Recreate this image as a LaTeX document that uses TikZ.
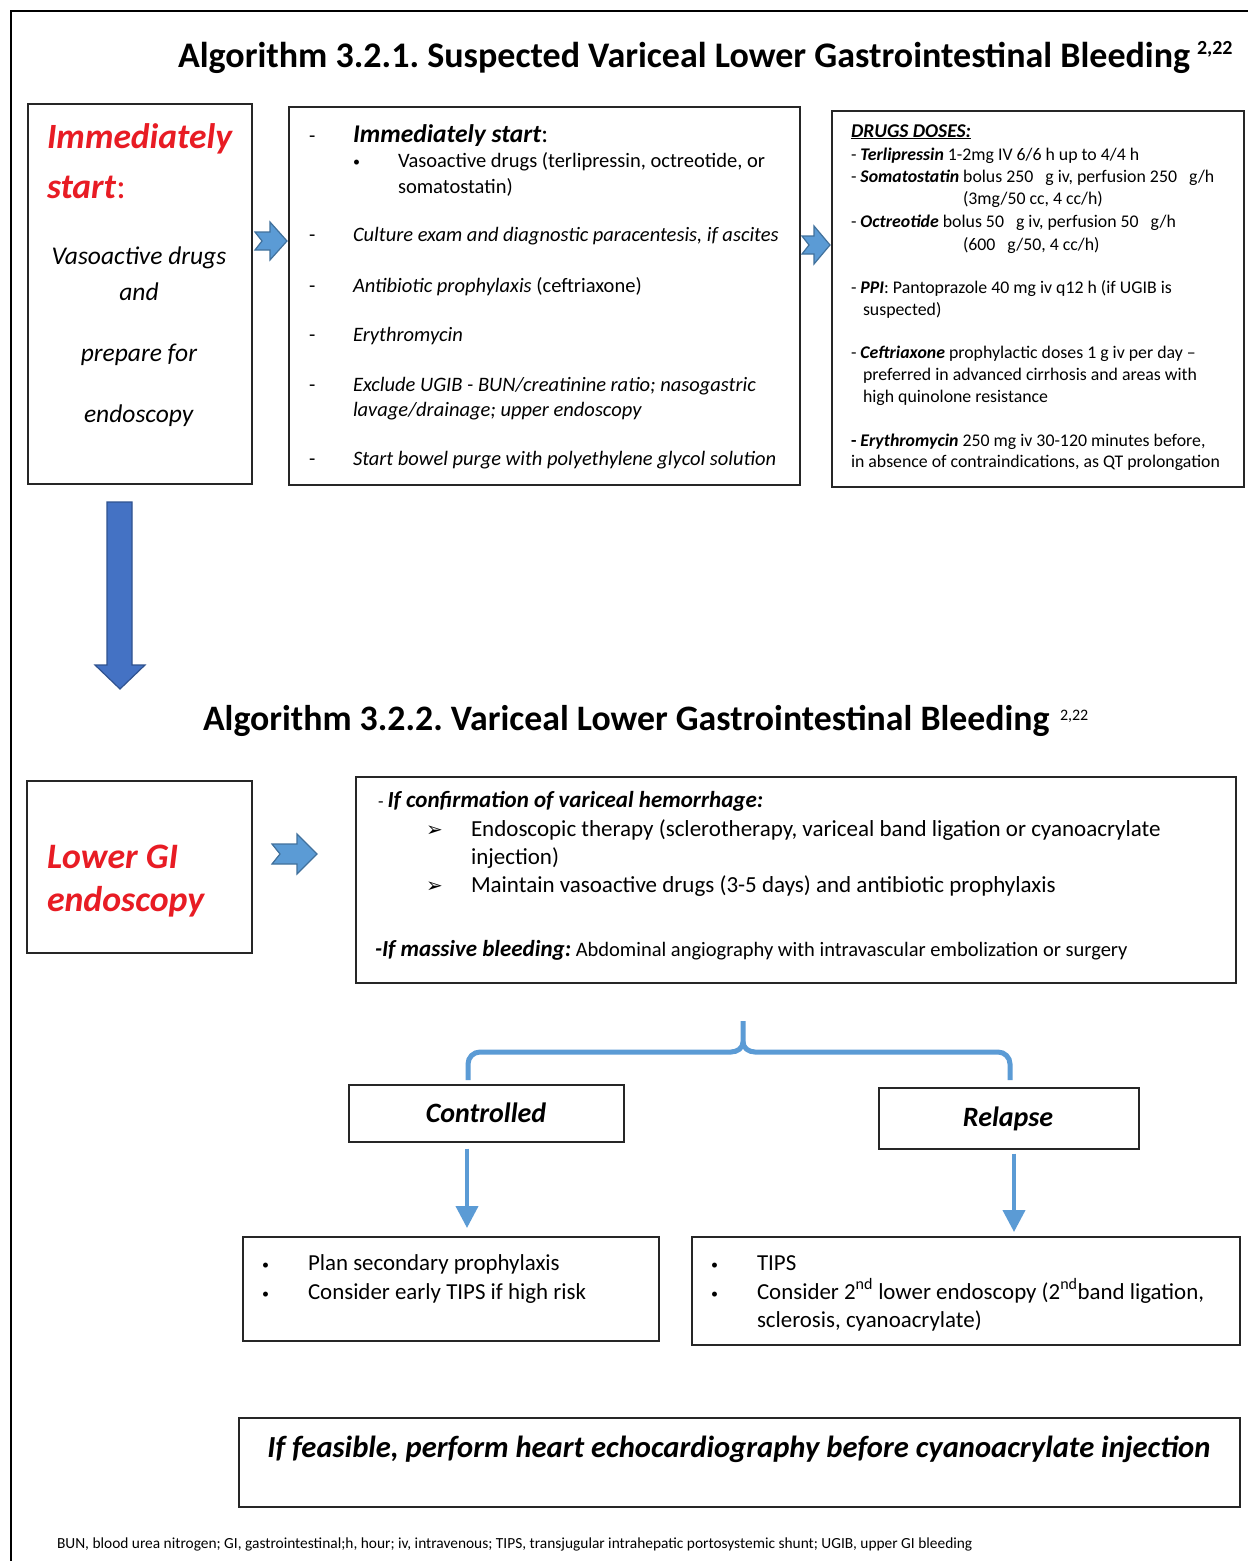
\documentclass[tikz,border=0pt]{standalone}
\usepackage{fontspec}
\setmainfont{Carlito}
\newfontfamily\dejavu{DejaVu Sans}
\usetikzlibrary{arrows.meta}
\definecolor{redtxt}{RGB}{232,28,36}
\definecolor{arrblue}{RGB}{91,155,213}
\definecolor{arredge}{RGB}{65,113,156}
\definecolor{bigblue}{RGB}{68,114,196}
\definecolor{bigedge}{RGB}{47,82,143}
\newcounter{tn}
\newcommand{\tx}[4]{\stepcounter{tn}\node[txt] (t\arabic{tn}) at (#1,#2) {\fontsize{#3}{#3}\selectfont #4};}
\newcommand{\tc}[4]{\stepcounter{tn}\node[ctxt] (t\arabic{tn}) at (#1,#2) {\fontsize{#3}{#3}\selectfont #4};}
\newcommand{\notchar}[8]{% name, x0, x1, x2, x3, yc, h1, h2
  \draw[notched] (#2,#6-#7) -- (#4,#6-#7) -- (#4,#6-#8) -- (#5,#6) -- (#4,#6+#8) -- (#4,#6+#7) -- (#2,#6+#7) -- (#3,#6) -- cycle;
  \coordinate (#1) at (#5,#6);}
\newcommand{\bi}[1]{\textbf{\textit{#1}}}
\newcommand{\gap}{\hspace{12pt}}
\frenchspacing
\tikzset{
  txt/.style={anchor=base west,inner sep=0pt,outer sep=0pt},
  ctxt/.style={anchor=base,inner sep=0pt,outer sep=0pt},
  box/.style={draw=black!85,line width=1.6pt,inner sep=0pt,anchor=north west},
  notched/.style={fill=arrblue,draw=arredge,line width=1.2pt,line join=miter},
  brace/.style={draw=arrblue,line width=5pt},
  downarr/.style={draw=arrblue,line width=4pt,-{Triangle[width=22pt,length=22pt]}},
}
\begin{document}
\begin{tikzpicture}[x=1pt,y=-1pt]
\useasboundingbox (0,0) rectangle (1248,1561);
\fill[white] (0,0) rectangle (1248,1561);
% outer frame
\draw[line width=2pt] (11,1561) -- (11,11) -- (1248,11);

% Title 1
\tx{178}{67}{36}{\textbf{Algorithm 3.2.1. Suspected Variceal Lower Gastrointestinal Bleeding}}
\tx{1197}{54}{20}{\textbf{2,22}}

% Box A
\node[box,minimum width=224,minimum height=380] (A) at (27,103) {};
\tx{47}{148}{35.5}{\color{redtxt}\bi{Immediately}}
\tx{47}{198}{35.5}{\color{redtxt}\bi{start}:}
\tc{139}{264}{25.5}{\textit{Vasoactive drugs}}
\tc{139}{300}{25.5}{\textit{and}}
\tc{139}{361}{25.5}{\textit{prepare for}}
\tc{139}{422}{25.5}{\textit{endoscopy}}

% Box B
\node[box,minimum width=511,minimum height=378] (B) at (288,106) {};
\tx{309}{142}{20.5}{-}
\tx{353}{142}{25.5}{\bi{Immediately start}:}
\tx{353}{166}{14}{•}
\tx{398}{167}{20.5}{Vasoactive drugs (terlipressin, octreotide, or}
\tx{398}{193}{20.5}{somatostatin)}
\tx{309}{241}{20.5}{-}
\tx{353}{241}{20.5}{\textit{Culture exam and diagnostic paracentesis, if ascites}}
\tx{309}{292}{20.5}{-}
\tx{353}{292}{20.5}{\textit{Antibiotic prophylaxis} (ceftriaxone)}
\tx{309}{341}{20.5}{-}
\tx{353}{341}{20.5}{\textit{Erythromycin}}
\tx{309}{391}{20.5}{-}
\tx{353}{391}{20.5}{\textit{Exclude UGIB - BUN/creatinine ratio; nasogastric}}
\tx{353}{416}{20.5}{\textit{lavage/drainage; upper endoscopy}}
\tx{309}{465}{20.5}{-}
\tx{353}{465}{20.5}{\textit{Start bowel purge with polyethylene glycol solution}}

% Box C
\node[box,minimum width=412,minimum height=376] (C) at (831,110) {};
\tx{851}{137}{19.5}{\underline{\bi{DRUGS DOSES:}}}
\tx{851}{160}{17.8}{- \bi{Terlipressin} 1-2mg IV 6/6 h up to 4/4 h}
\tx{851}{182}{17.8}{- \bi{Somatostatin} bolus 250\gap g iv, perfusion 250\gap g/h}
\tx{963}{204}{17.8}{(3mg/50 cc, 4 cc/h)}
\tx{851}{227}{17.8}{- \bi{Octreotide} bolus 50\gap g iv, perfusion 50\gap g/h}
\tx{963}{250}{17.8}{(600\gap g/50, 4 cc/h)}
\tx{851}{293}{17.8}{- \bi{PPI}: Pantoprazole 40 mg iv q12 h (if UGIB is}
\tx{863}{315}{17.8}{suspected)}
\tx{851}{358}{17.8}{- \bi{Ceftriaxone} prophylactic doses 1 g iv per day –}
\tx{863}{380}{17.8}{preferred in advanced cirrhosis and areas with}
\tx{863}{402}{17.8}{high quinolone resistance}
\tx{851}{446}{17.8}{\textbf{- }\bi{Erythromycin} 250 mg iv 30-120 minutes before,}
\tx{851}{467}{17.8}{in absence of contraindications, as QT prolongation}

% notched arrows
\notchar{aAB}{255}{262}{270}{287}{241}{9}{19}
\notchar{aBC}{802}{809}{814}{830}{245}{9}{19}

% big down arrow
\draw[fill=bigblue,draw=bigedge,line width=1.2pt,line join=miter]
  (107,502) -- (132,502) -- (132,665) -- (145,665) -- (120,689) -- (95,665) -- (107,665) -- cycle;
\coordinate (bigtip) at (120,689);

% Title 2
\tx{203}{730}{35.8}{\textbf{Algorithm 3.2.2. Variceal Lower Gastrointestinal Bleeding}}
\tx{1060}{720}{16}{2,22}

% Box D
\node[box,minimum width=225,minimum height=172] (D) at (26,780) {};
\tx{47}{868}{35.8}{\color{redtxt}\bi{Lower GI}}
\tx{47}{911}{35.8}{\color{redtxt}\bi{endoscopy}}

\notchar{aDE}{272}{280}{297}{317}{854}{10}{20}

% Box E
\node[box,minimum width=880,minimum height=206] (E) at (355,776) {};
\tx{378}{807}{18}{- \bi{\fontsize{23}{23}\selectfont If confirmation of variceal hemorrhage:}}
\tx{426}{836}{20}{{\dejavu ➢}}
\tx{471}{836}{23}{Endoscopic therapy (sclerotherapy, variceal band ligation or cyanoacrylate}
\tx{471}{864}{23}{injection)}
\tx{426}{892}{20}{{\dejavu ➢}}
\tx{471}{892}{23}{Maintain vasoactive drugs (3-5 days) and antibiotic prophylaxis}
\tx{375}{956}{20.5}{\bi{\fontsize{23}{23}\selectfont -If massive bleeding:} Abdominal angiography with intravascular embolization or surgery}

% brace
\draw[brace] (468,1080) -- (468,1064) to[out=90,in=180] (480,1052) -- (731,1052) to[out=0,in=-90] (743,1042) -- (743,1021);
\draw[brace] (743,1042) to[out=-90,in=180] (755,1052) -- (998,1052) to[out=0,in=90] (1010,1064) -- (1010,1080);

% Controlled / Relapse
\node[box,minimum width=275,minimum height=57] (ctrl) at (348,1084) {};
\tc{486}{1122}{28}{\bi{Controlled}}
\node[box,minimum width=260,minimum height=61] (rel) at (878,1087) {};
\tc{1008}{1126}{28}{\bi{Relapse}}

% Box F, G
\node[box,minimum width=416,minimum height=104] (F) at (242,1236) {};
\tx{262}{1269}{14}{•}
\tx{308}{1270}{22.9}{Plan secondary prophylaxis}
\tx{262}{1298}{14}{•}
\tx{308}{1299}{22.9}{Consider early TIPS if high risk}
\node[box,minimum width=548,minimum height=108] (G) at (691,1236) {};
\tx{711}{1269}{14}{•}
\tx{757}{1270}{22.9}{TIPS}
\tx{711}{1298}{14}{•}
\tx{757}{1299}{22.9}{Consider 2\textsuperscript{nd} lower endoscopy (2\textsuperscript{nd}band ligation,}
\tx{757}{1327}{22.9}{sclerosis, cyanoacrylate)}

\draw[downarr] ([xshift=119pt,yshift=-6pt]ctrl.south west) -- ([xshift=225pt,yshift=8pt]F.north west);
\draw[downarr] ([xshift=136pt,yshift=-4pt]rel.south west) -- ([xshift=323pt,yshift=4pt]G.north west);

% Box H
\node[box,minimum width=1001,minimum height=89] (H) at (238,1417) {};
\tc{739}{1457}{30.6}{\bi{If feasible, perform heart echocardiography before cyanoacrylate injection}}

% footnote
\tx{57}{1548}{15.4}{BUN, blood urea nitrogen; GI, gastrointestinal;h, hour; iv, intravenous; TIPS, transjugular intrahepatic portosystemic shunt; UGIB, upper GI bleeding}
\end{tikzpicture}
\end{document}
